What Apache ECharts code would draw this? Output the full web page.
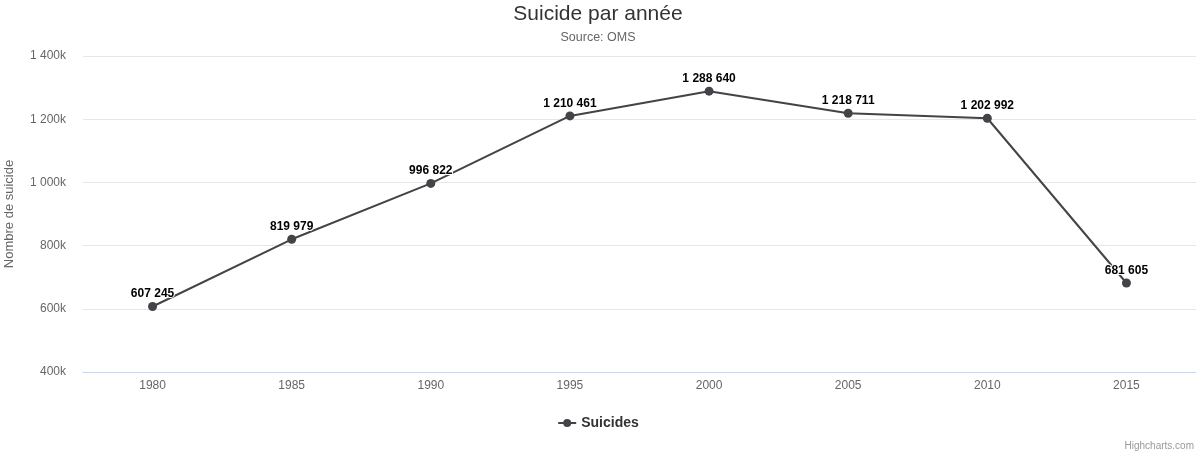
<!DOCTYPE html>
<html>
<head>
<meta charset="utf-8">
<script src="https://cdn.jsdelivr.net/npm/echarts@6/dist/echarts.min.js"></script>
<style>
html, body { margin: 0; padding: 0; background: #fff; }
#main { width: 1196px; height: 455px; }
</style>
</head>
<body>
<div id="main"></div>
<script>
// données
var years = ['1980', '1985', '1990', '1995', '2000', '2005', '2010', '2015'];
var suicides = [607245, 819979, 996822, 1210461, 1288640, 1218711, 1202992, 681605];
var yTicks = [400000, 600000, 800000, 1000000, 1200000, 1400000];

var font = 'Liberation Sans, Arial, Helvetica, sans-serif';

function spaced(n) {
    return String(n).replace(/\B(?=(\d{3})+(?!\d))/g, ' ');
}

var chart = echarts.init(document.getElementById('main'));
chart.setOption({
    animation: false,
    title: {
        text: 'Suicide par année',
        subtext: 'Source: OMS',
        left: 'center',
        top: -1,
        itemGap: 6,
        textStyle: { fontFamily: font, fontSize: 21, fontWeight: 'normal', color: '#333333' },
        subtextStyle: { fontFamily: font, fontSize: 12.5, color: '#666666' }
    },
    legend: {
        bottom: 20,
        left: 'center',
        itemWidth: 18,
        itemHeight: 10,
        itemGap: 6,
        textStyle: { fontFamily: font, fontSize: 14, fontWeight: 'bold', color: '#333333' },
        data: ['Suicides']
    },
    grid: { left: 83, right: 0, top: 56, bottom: 83, outerBoundsMode: 'none' },
    xAxis: {
        type: 'category',
        data: years,
        boundaryGap: true,
        axisLine: { lineStyle: { color: '#ccd6eb' } },
        axisTick: { show: false },
        axisLabel: { fontFamily: font, fontSize: 12, color: '#666666', margin: 8 }
    },
    yAxis: {
        type: 'value',
        min: yTicks[0],
        max: yTicks[yTicks.length - 1],
        interval: 200000,
        name: 'Nombre de suicide',
        nameLocation: 'middle',
        nameRotate: 90,
        nameGap: 67,
        nameTextStyle: { fontFamily: font, fontSize: 13, color: '#666666' },
        axisLine: { show: false },
        axisTick: { show: false },
        splitLine: { lineStyle: { color: '#e6e6e6' } },
        axisLabel: {
            fontFamily: font, fontSize: 12, color: '#666666', margin: 17,
            formatter: function (v) { return spaced(v / 1000) + 'k'; }
        }
    },
    series: [{
        name: 'Suicides',
        type: 'line',
        data: suicides,
        color: '#434348',
        symbol: 'circle',
        symbolSize: 9,
        lineStyle: { width: 2, color: '#434348' },
        itemStyle: { color: '#434348' },
        label: {
            show: true,
            position: 'top',
            distance: 2,
            fontFamily: font,
            fontSize: 12,
            fontWeight: 'bold',
            color: '#000000',
            textBorderColor: '#ffffff',
            textBorderWidth: 2,
            formatter: function (p) { return spaced(p.value); }
        }
    }],
    graphic: [{
        type: 'text',
        right: 2,
        bottom: 4,
        style: { text: 'Highcharts.com', fontFamily: font, fontSize: 10, fill: '#999999' }
    }]
});
</script>
</body>
</html>
